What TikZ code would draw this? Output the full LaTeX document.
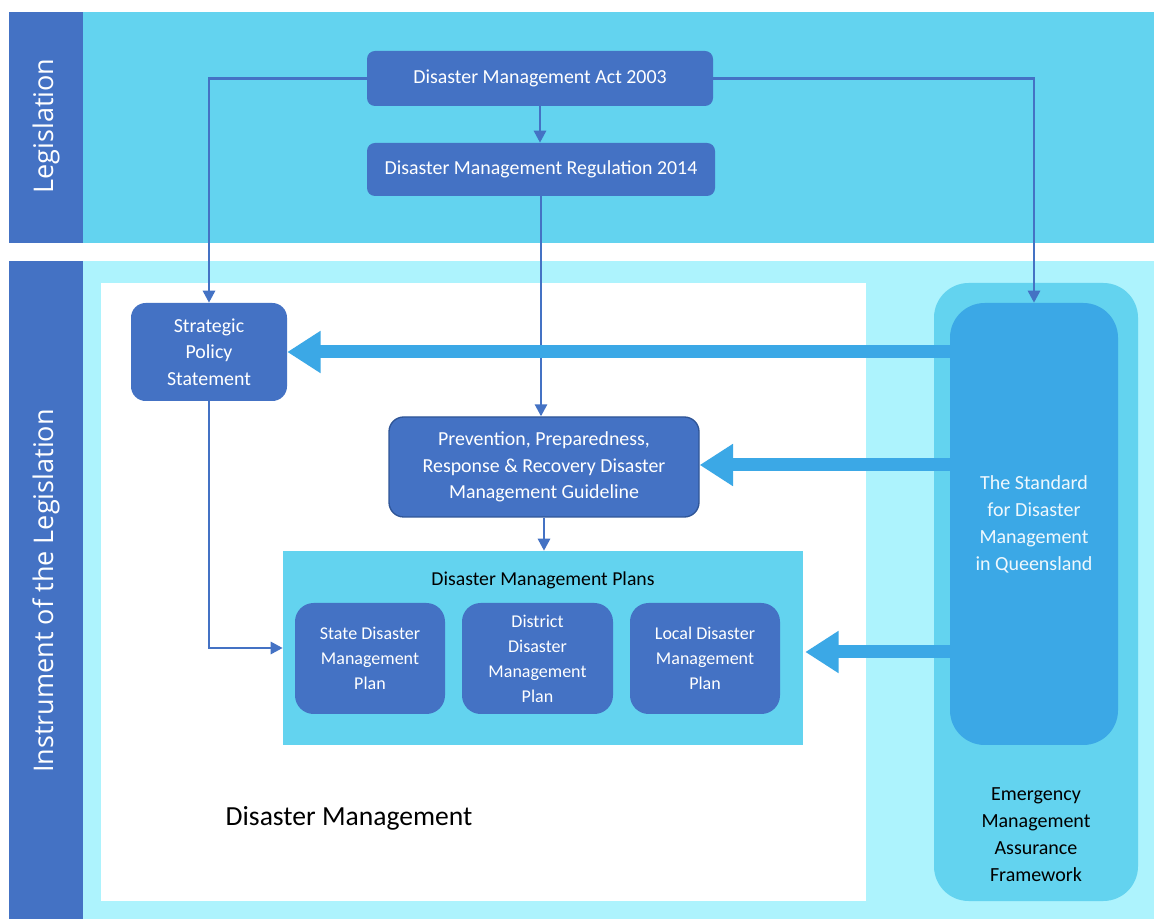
\documentclass[tikz,border=0pt]{standalone}
\usepackage{fontspec}
\setmainfont{Carlito}
\newfontfamily\bandfont{Open Sans}
\usetikzlibrary{arrows.meta,calc}
\definecolor{dblue}{HTML}{4472C4}
\definecolor{mcyan}{HTML}{63D3EF}
\definecolor{lcyan}{HTML}{ADF3FD}
\definecolor{sblue}{HTML}{3BA8E6}
\definecolor{bordblue}{HTML}{2F5597}
\tikzset{
  boxst/.style={draw=none, fill=dblue, text=white, rounded corners=6pt, align=center, inner sep=0pt, font=\fontsize{14.9}{19.8}\selectfont},
  planst/.style={boxst, rounded corners=14pt, font=\fontsize{13.5}{18.8}\selectfont},
  thin/.style={draw=dblue, line width=2pt, -{Triangle[length=9pt,width=9pt]}},
  thick/.style={draw=sblue, line width=9.75pt, -{Triangle[length=25pt,width=30pt]}},
  bandlbl/.style={text=white, rotate=90, font=\bandfont\fontsize{20.3}{24}\selectfont}
}
\begin{document}
\begin{tikzpicture}[x=0.75pt,y=-0.75pt]
\useasboundingbox (0,0) rectangle (1154,919);
\fill[white] (0,0) rectangle (1154,919);
% bands
\fill[mcyan] (83,12) rectangle (1154,243);
\fill[dblue] (9,12) rectangle (83,243);
\fill[lcyan] (83,261) rectangle (1154,919);
\fill[dblue] (9,261) rectangle (83,919);
\fill[white] (101,283) rectangle (866,901);
\node[bandlbl] (leg) at (46,126) {Legislation};
\node[bandlbl] (inst) at (46,591) {Instrument of the Legislation};
% EMAF
\node[fill=mcyan, rounded corners=26pt, minimum width=153pt, minimum height=463.5pt, inner sep=0pt] (emaf) at (1036,592) {};
\node[fill=sblue, rounded corners=26pt, minimum width=126pt, minimum height=331.5pt, inner sep=0pt, text=white!92!sblue, align=center, font=\fontsize{15}{20.3}\selectfont] (std) at (1034,524) {The Standard\\for Disaster\\Management\\in Queensland};
\node[align=center, font=\fontsize{15}{20.3}\selectfont, text=black] (emaft) at (1036,835) {Emergency\\Management\\Assurance\\Framework};
% boxes
\node[boxst, minimum width=259.5pt, minimum height=41.25pt] (act) at (540,78.5) {Disaster Management Act 2003};
\node[boxst, minimum width=261pt, minimum height=39.75pt] (reg) at (541,169.5) {Disaster Management Regulation 2014};
\node[boxst, rounded corners=11pt, minimum width=117pt, minimum height=73.5pt] (sps) at (209,352) {Strategic\\Policy\\Statement};
\node[boxst, rounded corners=11pt, draw=bordblue, line width=1pt, minimum width=232.5pt, minimum height=75pt] (gl) at (544,467) {Prevention, Preparedness,\\Response \& Recovery Disaster\\Management Guideline};
\node[fill=mcyan, minimum width=390pt, minimum height=145.5pt, inner sep=0pt] (plans) at (543,648) {};
\node[font=\fontsize{14.8}{18}\selectfont, text=black] (plt) at (543,580) {Disaster Management Plans};
\node[planst, minimum width=112.5pt, minimum height=83.25pt] (state) at (370,658.5) {State Disaster\\Management\\Plan};
\node[planst, minimum width=113.25pt, minimum height=83.25pt] (dist) at (537.5,658.5) {District\\Disaster\\Management\\Plan};
\node[planst, minimum width=112.5pt, minimum height=83.25pt] (local) at (705,658.5) {Local Disaster\\Management\\Plan};
\node[font=\fontsize{20.7}{24}\selectfont, text=black] (dm) at (349,818) {Disaster Management};
% thin connectors
\draw[thin] (act.west) -| (sps.north);
\draw[thin] (act.east) -| (std.north);
\draw[thin] (act.south) -- (act.south |- reg.north);
\draw[thin] (reg.south) -- (reg.south |- gl.north);
\draw[thin] (gl.south) -- (gl.south |- plans.north);
\draw[thin] (sps.south) |- (plans.west);
% thick arrows
\draw[thick] (std.west |- sps.east) -- (sps.east);
\draw[thick] ($(std.west |- gl.east)+(0,-2)$) -- ($(gl.east)+(0,-2)$);
\draw[thick] ($(std.west |- plans.east)+(0,4)$) -- ($(plans.east)+(2,4)$);
\end{tikzpicture}
\end{document}
